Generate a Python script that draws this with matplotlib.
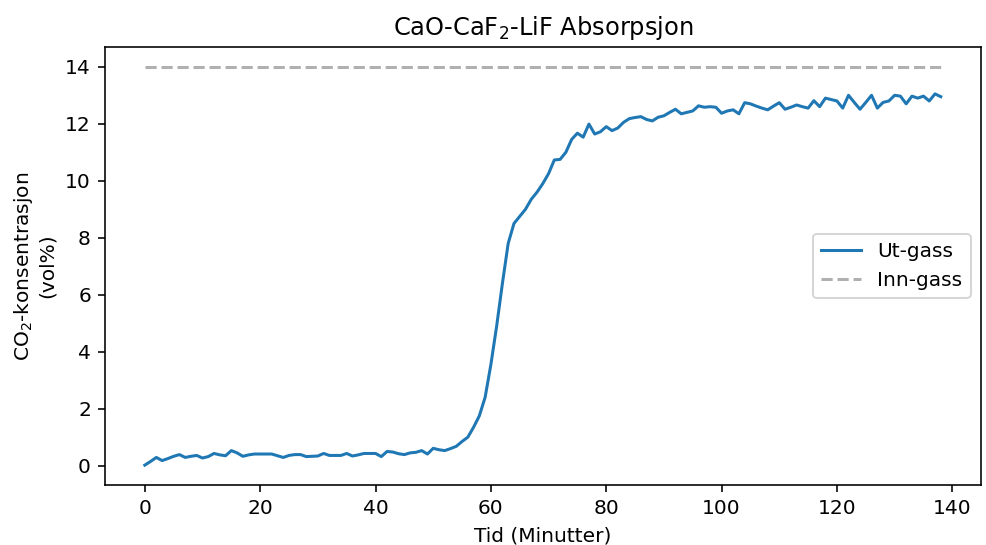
import matplotlib
matplotlib.use("Agg")
import matplotlib.pyplot as plt

# Tid (minutter) og målt CO2 i ut-gass (vol%)
tid = list(range(0, 139))
ut_gass = [0.02, 0.15, 0.29, 0.18, 0.25, 0.33, 0.39, 0.29, 0.33, 0.36,
           0.27, 0.32, 0.43, 0.38, 0.35, 0.53, 0.45, 0.33, 0.38, 0.41,
           0.41, 0.41, 0.41, 0.35, 0.29, 0.36, 0.39, 0.39, 0.32, 0.33,
           0.34, 0.43, 0.36, 0.36, 0.36, 0.43, 0.34, 0.38, 0.43, 0.43,
           0.43, 0.32, 0.50, 0.48, 0.42, 0.39, 0.45, 0.47, 0.53, 0.41,
           0.61, 0.56, 0.53, 0.60, 0.68, 0.85, 1.00, 1.35, 1.75, 2.40,
           3.55, 4.90, 6.40, 7.80, 8.50, 8.75, 9.00, 9.35, 9.60, 9.90,
           10.25, 10.73, 10.75, 11.00, 11.45, 11.67, 11.53, 11.99, 11.64, 11.72,
           11.90, 11.76, 11.85, 12.05, 12.18, 12.22, 12.25, 12.15, 12.10, 12.23,
           12.28, 12.40, 12.51, 12.35, 12.40, 12.45, 12.63, 12.58, 12.60, 12.58,
           12.37, 12.45, 12.49, 12.35, 12.74, 12.70, 12.62, 12.55, 12.49, 12.62,
           12.74, 12.51, 12.58, 12.66, 12.60, 12.55, 12.81, 12.60, 12.90, 12.85,
           12.80, 12.55, 13.00, 12.75, 12.51, 12.75, 13.00, 12.55, 12.75, 12.80,
           13.00, 12.97, 12.70, 12.97, 12.90, 12.97, 12.80, 13.05, 12.95]
inn_gass = [14.0] * len(tid)

fig = plt.figure(figsize=(986 / 145, 545 / 145), dpi=145)
ax = fig.add_axes([0.1065, 0.110, 0.888, 0.804])

ax.plot(tid, ut_gass, color='#1f77b4', label='Ut-gass')
ax.plot(tid, inn_gass, '--', color='#b0b0b0', label='Inn-gass')

ax.set_title('CaO-CaF$_2$-LiF Absorpsjon')
ax.set_xlabel('Tid (Minutter)')
ax.set_ylabel('CO$_2$-konsentrasjon\n(vol%)')
ax.set_yticks(range(0, 15, 2))
ax.legend(loc='center right')

fig.savefig('out.png', dpi=145)
